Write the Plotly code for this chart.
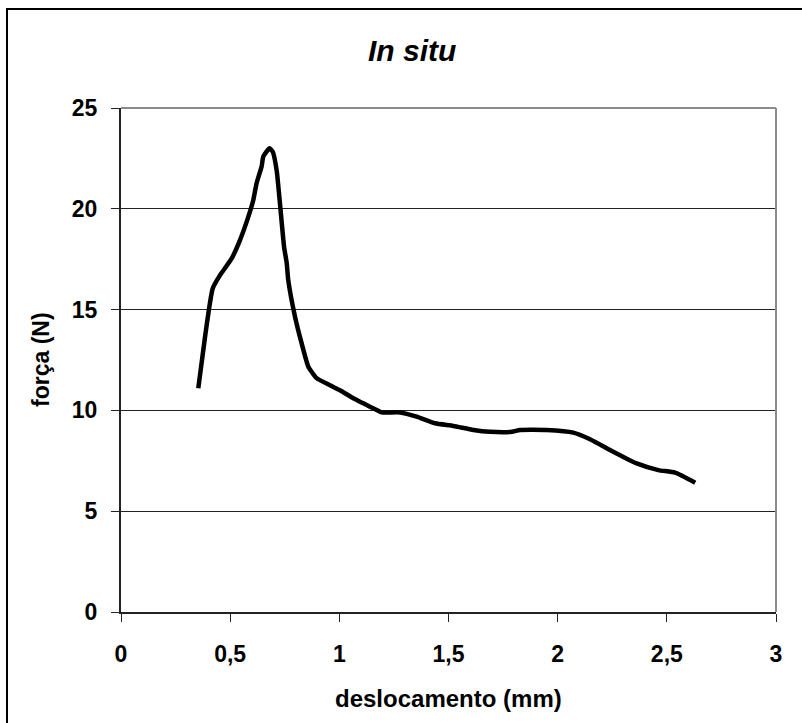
import plotly.graph_objects as go

# Force–displacement curve (in situ test)
deslocamento_mm = [0.354, 0.385, 0.420, 0.453, 0.507, 0.545, 0.583, 0.606, 0.621, 0.644,
                   0.652, 0.680, 0.695, 0.713, 0.728, 0.747, 0.759, 0.766, 0.797, 0.828,
                   0.858, 0.896, 0.957, 1.003, 1.064, 1.110, 1.171, 1.194, 1.278, 1.354,
                   1.438, 1.522, 1.614, 1.690, 1.790, 1.828, 1.950, 2.072, 2.148, 2.255,
                   2.362, 2.461, 2.538, 2.630]
forca_N = [11.1, 13.66, 16.05, 16.7, 17.54, 18.45, 19.6, 20.44, 21.27, 22.1,
           22.6, 23.0, 22.83, 21.9, 20.27, 18.1, 17.3, 16.47, 14.65, 13.3,
           12.17, 11.6, 11.25, 11.0, 10.6, 10.35, 10.02, 9.9, 9.9, 9.69,
           9.36, 9.23, 9.03, 8.94, 8.94, 9.03, 9.03, 8.9, 8.57, 7.95,
           7.37, 7.04, 6.91, 6.41]

x_ticks = [0, 0.5, 1, 1.5, 2, 2.5, 3]
y_ticks = [0, 5, 10, 15, 20, 25]

FONT = "Liberation Sans, Arial, sans-serif"
W, H = 802, 723
L, R, T, B = 121, 26, 108, 111
PW, PH = W - L - R, H - T - B


def px_x(p):
    return (p - L) / PW


def px_y(p):
    return (H - B - p) / PH


fig = go.Figure()
fig.add_trace(go.Scatter(
    x=deslocamento_mm, y=forca_N, mode="lines",
    line=dict(color="black", width=4.5, shape="spline", smoothing=0.5),
    hoverinfo="skip", showlegend=False,
))

fig.update_layout(
    width=W, height=H,
    margin=dict(l=L, r=R, t=T, b=B, pad=0),
    paper_bgcolor="white", plot_bgcolor="white",
    separators=",.",
    font=dict(family=FONT, color="black"),
    xaxis=dict(
        range=[0, 3], tickvals=x_ticks, showgrid=False, zeroline=False,
        showline=True, linecolor="#222222", linewidth=2,
        ticks="outside", ticklen=8, tickwidth=1, tickcolor="#222222",
        tickfont=dict(family=FONT, size=23, weight="bold", color="black"),
        ticklabelstandoff=12,
    ),
    yaxis=dict(
        range=[0, 25], tickvals=y_ticks, showgrid=True, gridcolor="#222222",
        gridwidth=1, zeroline=False,
        showline=True, linecolor="#222222", linewidth=2,
        ticks="outside", ticklen=8, tickwidth=1, tickcolor="#222222",
        tickfont=dict(family=FONT, size=23, weight="bold", color="black"),
        ticklabelstandoff=9,
    ),
    shapes=[
        # plot-area border (top and right)
        dict(type="line", xref="paper", yref="paper", x0=0, x1=1, y0=1, y1=1,
             line=dict(color="#8c8c8c", width=2)),
        dict(type="line", xref="paper", yref="paper", x0=1, x1=1, y0=0, y1=1,
             line=dict(color="#8c8c8c", width=2)),
        # chart frame
        dict(type="rect", xref="paper", yref="paper",
             x0=px_x(7), x1=px_x(830), y0=px_y(9), y1=px_y(760),
             line=dict(color="black", width=2), layer="below"),
    ],
    annotations=[
        dict(text="<b><i>In situ</i></b>", xref="paper", yref="paper",
             x=px_x(412), y=px_y(51), xanchor="center", yanchor="middle",
             showarrow=False, font=dict(family=FONT, size=30, color="black")),
        dict(text="<b>deslocamento (mm)</b>", xref="paper", yref="paper",
             x=px_x(448), y=px_y(698), xanchor="center", yanchor="middle",
             showarrow=False, font=dict(family=FONT, size=24, color="black")),
        dict(text="<b>força (N)</b>", xref="paper", yref="paper",
             x=px_x(41), y=px_y(360), xanchor="center", yanchor="middle",
             textangle=-90, showarrow=False,
             font=dict(family=FONT, size=23, color="black")),
    ],
)

fig.write_html("out.html")
